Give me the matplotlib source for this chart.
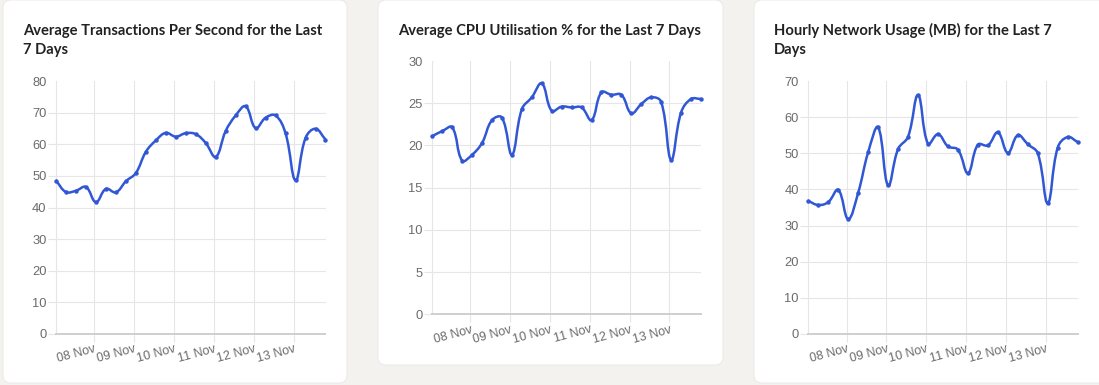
import numpy as np
import pandas as pd
import matplotlib
matplotlib.use('Agg')
import matplotlib.pyplot as plt
import matplotlib.dates as mdates
from matplotlib.path import Path
from matplotlib.patches import PathPatch, FancyBboxPatch

plt.rcParams['font.family'] = ['Liberation Sans', 'DejaVu Sans']

W, H = 1099, 385

# 6-hourly samples over the last 7 days
times = pd.date_range('2023-11-07 01:00', periods=28, freq='6h')
day_ticks = pd.date_range('2023-11-08', '2023-11-13', freq='D')

tps = [48.5, 44.9, 45.3, 46.5, 41.7, 45.9, 44.8, 48.3, 50.9, 57.6, 61.2, 63.6, 62.4, 63.5,
       63.2, 60.4, 56.0, 64.2, 69.1, 72.0, 65.1, 68.4, 69.1, 63.4, 48.6, 62.0, 64.9, 61.5]
cpu = [21.1, 21.7, 22.15, 18.2, 18.9, 20.3, 23.0, 23.3, 18.9, 24.3, 25.7, 27.35, 24.1, 24.6,
       24.5, 24.5, 23.0, 26.3, 26.0, 26.0, 23.8, 24.9, 25.7, 25.15, 18.3, 23.9, 25.5, 25.5]
net = [36.8, 35.7, 36.5, 39.9, 31.8, 39.1, 50.3, 57.2, 41.1, 51.2, 54.6, 66.1, 52.6, 55.3,
       51.9, 51.0, 44.5, 52.4, 52.2, 55.8, 50.1, 55.0, 52.5, 50.0, 36.2, 51.6, 54.5, 53.1]

titles = [['Average Transactions Per Second for the Last', '7 Days'],
          ['Average CPU Utilisation % for the Last 7 Days'],
          ['Hourly Network Usage (MB) for the Last 7', 'Days']]

BG = '#f3f2ee'
BLUE = '#3157d5'
GRID = '#e6e6e6'


def spline_path(ax, x, y, tension=0.4):
    # chart.js style cubic bezier through the points, computed in pixel space
    pts = ax.transData.transform(np.column_stack([x, y]))
    n = len(pts)
    cps = []
    for i in range(n):
        prev, cur, nxt = pts[max(i - 1, 0)], pts[i], pts[min(i + 1, n - 1)]
        d01 = np.hypot(*(cur - prev))
        d12 = np.hypot(*(nxt - cur))
        tot = d01 + d12
        fa = tension * d01 / tot if tot else 0
        fb = tension * d12 / tot if tot else 0
        cps.append((cur - fa * (nxt - prev), cur + fb * (nxt - prev)))
    verts = [pts[0]]
    codes = [Path.MOVETO]
    for i in range(1, n):
        verts += [cps[i - 1][1], cps[i][0], pts[i]]
        codes += [Path.CURVE4] * 3
    return Path(ax.transData.inverted().transform(np.array(verts)), codes)


fig = plt.figure(figsize=(W / 100, H / 100), dpi=100, facecolor=BG)
bg = fig.add_axes([0, 0, 1, 1], zorder=0)
bg.set_xlim(0, W)
bg.set_ylim(H, 0)
bg.axis('off')

cards = [(3, 0, 344, 383), (378, 0, 345, 365), (754, 0, 360, 383)]
for cx, cy, cw, ch in cards:
    bg.add_patch(FancyBboxPatch((cx, cy), cw, ch, boxstyle='round,pad=0,rounding_size=8',
                                fc='white', ec='#e8e7e3', lw=0.6))

title_pos = [(23, [35.5, 54]), (398, [35.5]), (774, [35.5, 54])]
boxes = [(56, 81, 325.5, 334), (432.3, 61, 701, 314.3), (808.3, 81, 1077.7, 334)]
series = [tps, cpu, net]
ylims = [(80, 10), (30, 5), (70, 10)]

for k in range(3):
    tx, tys = title_pos[k]
    for line, ty in zip(titles[k], tys):
        bg.text(tx, ty, line, fontsize=10.6, family='Lato', weight='bold', color='#222222',
                va='baseline', ha='left')

    l, t, r, b = boxes[k]
    ax = fig.add_axes([l / W, 1 - b / H, (r - l) / W, (b - t) / H], zorder=1)
    ax.set_facecolor('none')
    ymax, step = ylims[k]
    ax.set_ylim(0, ymax)
    ax.set_xlim(times[0], times[-1])
    ax.set_yticks(np.arange(0, ymax + 1, step))
    ax.set_xticks(day_ticks)
    ax.xaxis.set_major_formatter(mdates.DateFormatter('%d %b'))

    for s in ['top', 'right']:
        ax.spines[s].set_visible(False)
    ax.spines['left'].set_color(GRID)
    ax.spines['left'].set_linewidth(0.8)
    ax.spines['bottom'].set_color('#cfcfcf')
    ax.spines['bottom'].set_linewidth(1.4)

    ax.grid(True, color=GRID, lw=0.8, zorder=0)
    ax.set_axisbelow(True)
    ax.yaxis.get_gridlines()[-1].set_visible(False)
    ax.yaxis.get_major_ticks()[-1].tick1line.set_visible(False)

    ax.tick_params(axis='y', length=5.8, width=0.8, color=GRID, pad=1.0,
                   labelsize=9.3, labelcolor='#6b6b6b')
    ax.tick_params(axis='x', length=5.8, width=0.8, color=GRID, pad=1.0,
                   labelsize=9.0, labelcolor='#6b6b6b')
    for lab in ax.get_xticklabels():
        lab.set_rotation(15)
        lab.set_ha('right')
        lab.set_rotation_mode('anchor')

    x = mdates.date2num(times)
    y = np.array(series[k])
    ax.add_patch(PathPatch(spline_path(ax, x, y), fill=False, ec=BLUE, lw=1.8,
                           capstyle='round', joinstyle='round', zorder=3))
    ax.plot(x, y, 'o', color=BLUE, ms=3.2, mew=0, zorder=4, clip_on=False)

fig.savefig('out.png', dpi=100, facecolor=BG)
